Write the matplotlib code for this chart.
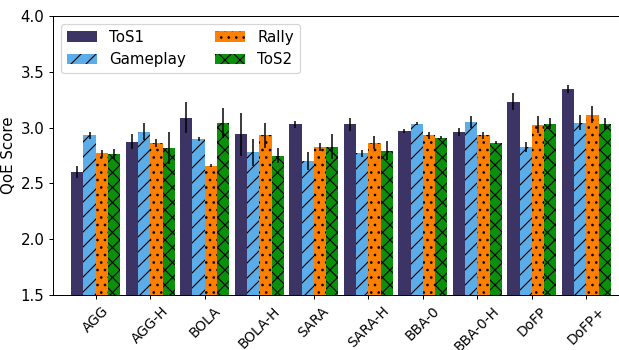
import numpy as np
import matplotlib.pyplot as plt

categories = ["AGG", "AGG-H", "BOLA", "BOLA-H", "SARA", "SARA-H",
              "BBA-0", "BBA-0-H", "DoFP", "DoFP+"]
series_names = ["ToS1", "Gameplay", "Rally", "ToS2"]

tos1 = [2.60, 2.875, 3.09, 2.94, 3.03, 3.03, 2.97, 2.964, 3.232, 3.348]
gameplay = [2.93, 2.964, 2.90, 2.78, 2.70, 2.77, 3.036, 3.054, 2.83, 3.045]
rally = [2.77, 2.866, 2.66, 2.93, 2.83, 2.866, 2.93, 2.93, 3.027, 3.116]
tos2 = [2.76, 2.82, 3.04, 2.75, 2.83, 2.795, 2.91, 2.866, 3.036, 3.036]

tos1_err = [0.055, 0.07, 0.14, 0.195, 0.03, 0.06, 0.02, 0.036, 0.075, 0.034]
gameplay_err = [0.035, 0.075, 0.02, 0.12, 0.08, 0.03, 0.015, 0.055, 0.045, 0.07]
rally_err = [0.03, 0.035, 0.015, 0.11, 0.035, 0.055, 0.027, 0.027, 0.075, 0.075]
tos2_err = [0.045, 0.145, 0.135, 0.07, 0.11, 0.085, 0.012, 0.015, 0.048, 0.054]

values = [tos1, gameplay, rally, tos2]
errors = [tos1_err, gameplay_err, rally_err, tos2_err]
colors = ["#3c3465", "#5badea", "#ff7f00", "#0a900a"]
hatches = ["", "//", "..", "xx"]

plt.rcParams['hatch.linewidth'] = 0.9
# dpi 90 so the hatch spacing comes out like the reference
fig, ax = plt.subplots(figsize=(619 / 90, 350 / 90), dpi=90)

x = np.arange(len(categories))
w = 0.225
for i in range(4):
    ax.bar(x + (i - 1.5) * w, values[i], w, yerr=errors[i], color=colors[i],
           hatch=hatches[i], edgecolor="black", linewidth=0, ecolor="black",
           error_kw=dict(elinewidth=1.2), label=series_names[i])

ax.set_ylim(1.5, 4.0)
ax.set_xlim(-0.78, 9.6)
ax.set_yticks([1.5, 2.0, 2.5, 3.0, 3.5, 4.0])
ax.set_xticks(x)
ax.set_xticklabels(categories, rotation=45, ha="center", fontsize=11)
ax.tick_params(axis="y", labelsize=12)
ax.set_ylabel("QoE Score", fontsize=12)
ax.legend(ncol=2, loc="upper left", fontsize=12, columnspacing=2.0)

fig.subplots_adjust(left=0.086, right=1.0, top=0.954, bottom=0.157)
plt.savefig("out.png", dpi=90)
